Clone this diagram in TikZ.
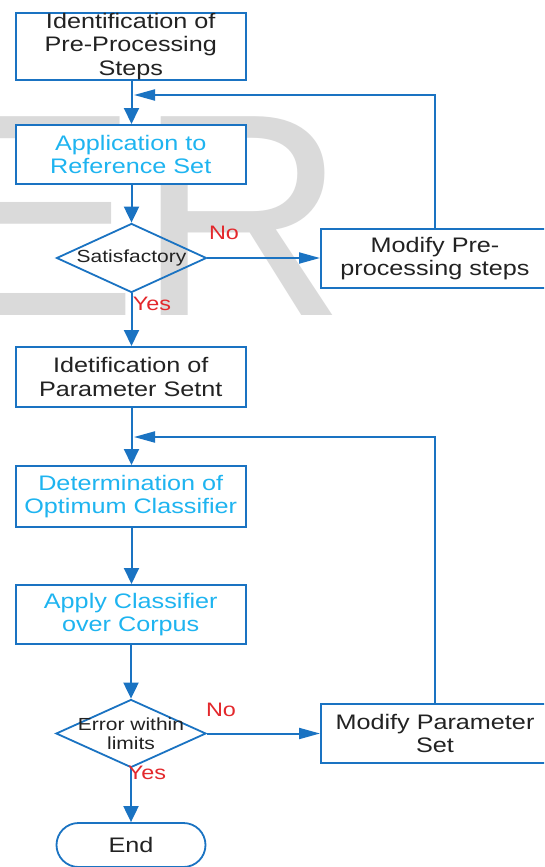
\documentclass[tikz,border=0pt]{standalone}
\usepackage{fontspec}
\setmainfont[FakeStretch=1.2]{Liberation Sans}
\newfontfamily\wmfont{Liberation Sans}
\usetikzlibrary{arrows.meta,shapes.geometric,shapes.misc}
\definecolor{lineblue}{HTML}{1A73C2}
\definecolor{textcyan}{HTML}{1EB4F0}
\definecolor{textdark}{HTML}{222222}
\definecolor{labred}{HTML}{E3282C}
\definecolor{wmgray}{HTML}{DADADA}
\tikzset{
  procbox/.style={rectangle, draw=lineblue, line width=2pt, fill=white, align=center,
    text=textdark, inner sep=0pt, font=\fontsize{21}{23.5}\selectfont},
  cyanbox/.style={procbox, text=textcyan},
  decbox/.style={diamond, draw=lineblue, line width=1.8pt, inner sep=0pt},
  dectext/.style={align=center, text=textdark, inner sep=0pt, font=\fontsize{17.5}{19}\selectfont},
  termbox/.style={rounded rectangle, draw=lineblue, line width=1.8pt, fill=white, text=textdark,
    inner sep=0pt, font=\fontsize{21}{23.5}\selectfont},
  conn/.style={draw=lineblue, line width=2pt},
  varrow/.style={conn, -{Triangle[length=16pt,width=15pt]}},
  harrow/.style={conn, -{Triangle[length=21pt,width=11pt]}},
  lab/.style={text=labred, inner sep=0pt, font=\fontsize{19.5}{20}\selectfont},
}
\begin{document}
\begin{tikzpicture}[x=1pt,y=-1pt]
\clip (0,0) rectangle (544,867);
\fill[white] (0,0) rectangle (544,867);
% watermark
\node[anchor=base west, inner sep=0pt, text=wmgray, font=\wmfont\fontsize{289}{289}\selectfont] (wm) at (-55,315) {ER};
% boxes
\node[procbox, minimum width=230.5pt, minimum height=67pt] (b1) at (130.75,46.5) {Identification of\\Pre-Processing\\Steps};
\node[cyanbox, minimum width=230.5pt, minimum height=59pt] (b2) at (130.75,154.5) {Application to\\Reference Set};
\node[decbox, minimum width=150pt, minimum height=69pt] (d1) at (131.5,258) {};
\node[dectext] (d1t) at (d1.center) {Satisfactory};
\node[procbox, minimum width=228pt, minimum height=59pt] (m1) at (435,258.5) {Modify Pre-\\processing steps};
\node[procbox, minimum width=230.5pt, minimum height=60pt] (b3) at (130.75,377) {Idetification of\\Parameter Setnt};
\node[cyanbox, minimum width=230.5pt, minimum height=61pt] (b4) at (130.75,496.5) {Determination of\\Optimum Classifier};
\node[cyanbox, minimum width=230.5pt, minimum height=59pt] (b5) at (130.75,614.5) {Apply Classifier\\over Corpus};
\node[decbox, minimum width=150pt, minimum height=68pt] (d2) at (131,733.5) {};
\node[dectext] (d2t) at (d2.center) {Error within\\limits};
\node[procbox, minimum width=228pt, minimum height=59pt] (m2) at (435,733.5) {Modify Parameter\\Set};
\node[termbox, minimum width=149pt, minimum height=44pt] (e) at (131,845) {End};
% feedback junctions
\coordinate (j1) at (134,95);
\coordinate (j2) at (134,437);
% connectors
\draw[varrow] (b1.south -| d1.north) -- (d1.north |- b2.north);
\draw[varrow] (b2.south -| d1.north) -- (d1.north);
\draw[harrow] (d1.east) -- (d1.east -| m1.west);
\draw[harrow] (m1.north) |- (j1);
\draw[varrow] (d1.south) -- (d1.south |- b3.north);
\draw[varrow] (b3.south -| d1.north) -- (d1.north |- b4.north);
\draw[varrow] (b4.south -| d1.north) -- (d1.north |- b5.north);
\draw[varrow] (b5.south -| d2.north) -- (d2.north);
\draw[harrow] (d2.east) -- (d2.east -| m2.west);
\draw[harrow] (m2.north) |- (j2);
\draw[varrow] (d2.south) -- (e.north);
% labels
\node[lab] (no1) at (224,233) {No};
\node[lab] (yes1) at (152,304) {Yes};
\node[lab] (no2) at (221,710) {No};
\node[lab] (yes2) at (147,773) {Yes};
\end{tikzpicture}
\end{document}
